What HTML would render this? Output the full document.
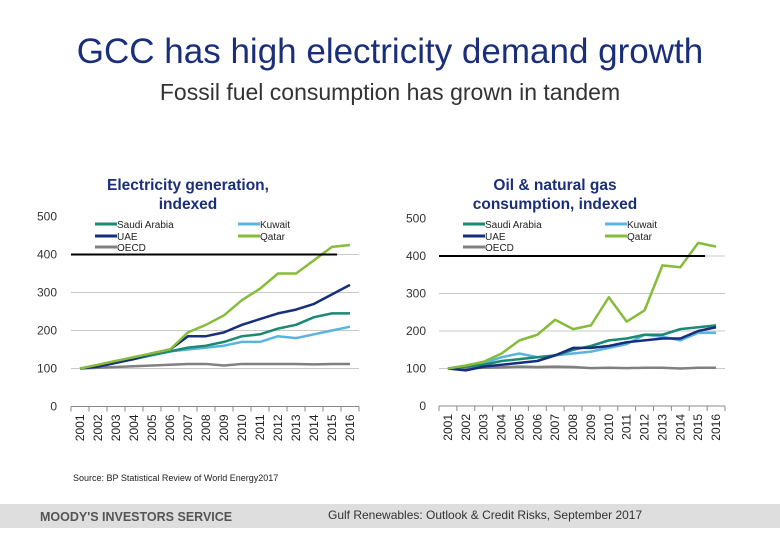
<!DOCTYPE html>
<html><head><meta charset="utf-8"><style>
body{margin:0;width:780px;height:540px;background:#fff;overflow:hidden;font-family:"Liberation Sans",Arial,sans-serif}
svg{position:absolute;left:0;top:0}
</style></head><body>
<svg id="s" width="780" height="540">
<text x="390" y="63" text-anchor="middle" font-size="35" fill="#1b2e7a">GCC has high electricity demand growth</text>
<text x="390" y="100" text-anchor="middle" font-size="23" fill="#333">Fossil fuel consumption has grown in tandem</text>
<text x="73" y="481" font-size="9" fill="#222">Source: BP Statistical Review of World Energy2017</text>
<rect x="0" y="504" width="780" height="24" fill="#dedede"/>
<text x="40" y="521" font-size="12.5" font-weight="bold" fill="#555">MOODY'S INVESTORS SERVICE</text>
<text x="328" y="519" font-size="12" fill="#333">Gulf Renewables: Outlook &amp; Credit Risks, September 2017</text>
</svg>
<script>
const years=["2001","2002","2003","2004","2005","2006","2007","2008","2009","2010","2011","2012","2013","2014","2015","2016"];
const yTicks=[0,100,200,300,400,500];
const seriesNames=["Saudi Arabia","UAE","OECD","Kuwait","Qatar"];
const seriesColors=["#1a8a72","#162e7d","#808080","#5ab4de","#86bc3a"];
const elecSaudi=[100,105,115,125,135,145,155,160,170,185,190,205,215,235,245,245];
const elecUAE=[100,105,115,125,140,150,185,185,195,215,230,245,255,270,295,320];
const elecOECD=[100,102,104,106,108,110,112,112,108,112,112,112,112,111,112,112];
const elecKuwait=[100,105,115,125,135,145,150,155,160,170,170,185,180,190,200,210];
const elecQatar=[100,110,120,130,140,150,195,215,240,280,310,350,350,385,420,425];
const oilSaudi=[100,105,110,120,125,130,135,150,160,175,180,190,190,205,210,215];
const oilUAE=[100,95,105,110,115,120,135,155,155,160,170,175,180,180,200,210];
const oilOECD=[100,101,102,103,105,104,105,104,101,102,101,102,102,100,102,102];
const oilKuwait=[100,105,115,130,140,130,135,140,145,155,165,190,185,175,195,195];
const oilQatar=[100,108,118,140,175,190,230,205,215,290,225,255,375,370,435,425];
const NS="http://www.w3.org/2000/svg";
const svg=document.getElementById('s');
function mk(t,a,p){const e=document.createElementNS(NS,t);for(const k in a)e.setAttribute(k,a[k]);(p||svg).appendChild(e);return e;}
function chart(cfg){
  const g=mk('g',{});
  
  
  const x0=cfg.x0,x1=cfg.x1,yb=cfg.y0,pxPer=cfg.pxPer;
  const cw=(x1-x0)/years.length;
  const X=i=>x0+cw*(i+0.5), Y=v=>yb-v*pxPer;
  yTicks.forEach(t=>{
    if(t>0&&t<500){const l=mk('line',{x1:x0,x2:x1,y1:Y(t),y2:Y(t),stroke:'#c8c8c8','stroke-width':1},g);
    
    }
    const tx=mk('text',{x:cfg.lx,y:Y(t)+4,'text-anchor':'end','font-size':12,fill:'#333'},g);
    tx.textContent=t;
    
    
  });
  const ax=mk('line',{x1:x0,x2:x1,y1:yb,y2:yb,stroke:'#888'},g);
  
  
  for(let i=0;i<=years.length;i++){mk('line',{x1:x0+cw*i,x2:x0+cw*i,y1:yb,y2:yb+5,stroke:'#888'},g);}
  years.forEach((yr,i)=>{
    const t=mk('text',{x:0,y:0,'font-size':12,fill:'#222','text-anchor':'end',transform:`translate(${X(i)+4},${yb+8}) rotate(-90)`},g);
    t.textContent=yr;
    
    
  });
  const order=[2,3,0,1,4];
  order.forEach(k=>{
    const d=cfg.data[k];
    const p=mk('polyline',{points:d.map((v,i)=>X(i)+','+Y(v)).join(' '),fill:'none',stroke:seriesColors[k],'stroke-width':2.5,'stroke-linejoin':'round'},g);
    
    
  });
  const ref=mk('line',{x1:x0,x2:cfg.refEnd,y1:Y(400),y2:Y(400),stroke:'#000','stroke-width':2},g);
  
  
  const lp=[[cfg.lg1,227],[cfg.lg1,239],[cfg.lg1,250],[cfg.lg2,227],[cfg.lg2,239]];
  seriesNames.forEach((n,k)=>{
    const lg=mk('g',{},g);
    
    
    mk('line',{x1:lp[k][0]-22,x2:lp[k][0],y1:lp[k][1]-3,y2:lp[k][1]-3,stroke:seriesColors[k],'stroke-width':3},lg);
    const t=mk('text',{x:lp[k][0],y:lp[k][1]+1,'font-size':10,fill:'#222'},lg);t.textContent=n;
  });
  cfg.title.forEach((s,i)=>{const t=mk('text',{x:cfg.tx,y:190+i*19,'text-anchor':'middle','font-size':15.5,'font-weight':'bold',fill:'#1b2e7a'},g);t.textContent=s;
    
    });
}
chart({name:'electricity-chart',x0:71,x1:359,y0:406.5,pxPer:0.38,lx:57,refEnd:337,lg1:117,lg2:260,tx:188,
  title:['Electricity generation,','indexed'],data:[elecSaudi,elecUAE,elecOECD,elecKuwait,elecQatar]});
chart({name:'oil-gas-chart',x0:439,x1:725,y0:406,pxPer:0.375,lx:426,refEnd:705,lg1:485,lg2:627,tx:555,
  title:['Oil & natural gas','consumption, indexed'],data:[oilSaudi,oilUAE,oilOECD,oilKuwait,oilQatar]});
</script>
</body></html>
